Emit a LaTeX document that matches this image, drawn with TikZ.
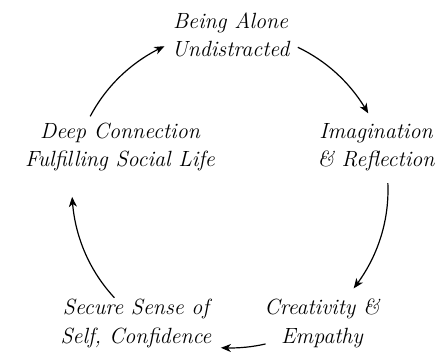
\documentclass[tikz,border=0pt]{standalone}
\usetikzlibrary{arrows.meta,bending}
\begin{document}
\begin{tikzpicture}[x=1pt,y=1pt,
  lbl/.style={font=\fontsize{22}{28.4}\selectfont\itshape, align=center, anchor=base, inner sep=0pt},
  arr/.style={line width=1.2pt, -{Stealth[length=10pt,width=8pt,inset=3pt,bend]}}]
\useasboundingbox (0,0) rectangle (440,356);
\node[lbl] (being)  at (230.5,299.3) {Being Alone\\Undistracted};
\node[lbl] (deep)   at (120,189.3) {Deep Connection\\Fulfilling Social Life};
\node[lbl] (imag)   at (376,189.3) {Imagination\\\& Reflection};
\node[lbl] (creat)  at (322,12.7) {Creativity \&\\Empathy};
\node[lbl] (secure) at (136,12.7) {Secure Sense of\\Self, Confidence};
\coordinate (c) at (230,166);
\draw[arr] (c) ++(152.2:158) arc[start angle=152.2, end angle=114.5, radius=158];
\draw[arr] (c) ++(64.6:158) arc[start angle=64.6, end angle=29, radius=158];
\draw[arr] (c) ++(2.5:158) arc[start angle=2.5, end angle=-38.5, radius=158];
\draw[arr] (c) ++(-77:158) arc[start angle=-77, end angle=-93.3, radius=158];
\draw[arr] (c) ++(-137:158) arc[start angle=-137, end angle=-177.5, radius=158];
\end{tikzpicture}
\end{document}
